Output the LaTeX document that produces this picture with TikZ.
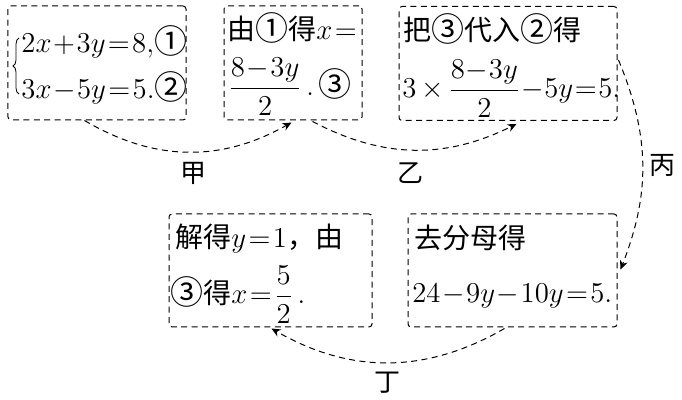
\documentclass[tikz,border=0pt]{standalone}
\usepackage{amsmath}
\usepackage{fontspec}
\newfontfamily\cjk{Noto Sans CJK SC}
\usetikzlibrary{arrows.meta,decorations.pathreplacing}
\newcommand{\cn}[1]{{\cjk #1}}
\newcommand{\cir}[1]{{\cjk\fontsize{16.5}{17}\selectfont\raisebox{-0.5pt}{#1}}}
\begin{document}
\begin{tikzpicture}[x=0.5pt,y=-0.5pt,
  every node/.style={font=\fontsize{14}{16}\selectfont, inner sep=0pt},
  box/.style={draw, dashed, dash pattern=on 3pt off 2.2pt, rounded corners=1.5pt, line width=0.5pt, minimum width=#1},
  txt/.style={anchor=base west},
  conn/.style={draw, dashed, dash pattern=on 3pt off 2.2pt, line width=0.5pt, -{Stealth[length=4.5pt,width=4pt]}},
  lab/.style={font=\fontsize{13}{15}\selectfont\cjk}
]
\useasboundingbox (0,0) rectangle (682,400);
\medmuskip=1mu \thickmuskip=1.5mu
% boxes
\node[box=89pt, minimum height=57pt] (b1) at (97,63) {};
\node[box=69pt, minimum height=57pt] (b2) at (293,63) {};
\node[box=109pt, minimum height=57pt] (b3) at (508,63.5) {};
\node[box=101.5pt, minimum height=56.5pt] (b4) at (270.5,270.5) {};
\node[box=104.5pt, minimum height=56.5pt] (b5) at (512.5,270.5) {};
% box 1
\coordinate (br1) at (19,94);
\coordinate (br2) at (19,38);
\draw[line width=0.4pt, decorate, decoration={brace, amplitude=3pt}] (br1) -- (br2);
\node[txt] (t1a) at (21,53) {$2x+3y=8,$\cir{①}};
\node[txt] (t1b) at (21,99) {$3x-5y=5.$\cir{②}};
% box 2
\node[txt] (t2a) at (227,40) {\cn{由}\cir{①}\cn{得}$x=$};
\node[txt] (t2b) at (228,96) {$\dfrac{8-3y}{2}$\,.\,\cir{③}};
% box 3
\node[txt] (t3a) at (403,41) {\cn{把}\cir{③}\cn{代入}\cir{②}\cn{得}};
\node[txt] (t3b) at (402,98) {\medmuskip=0.5mu\thickmuskip=1mu$3\,{\times}\,\dfrac{8-3y}{2}-5y=5.$};
% box 4
\node[txt] (t4a) at (175,248) {\cn{解得}$y=1$\cn{，由}};
\node[txt] (t4b) at (170,304) {\cir{③}\cn{得}$x=\dfrac{5}{2}$\,.};
% box 5
\node[txt] (t5a) at (414,249) {\cn{去分母得}};
\node[txt] (t5b) at (412,303) {$24-9y-10y=5.$};
% connectors
\coordinate (s1) at ([shift={(77,0)}]b1.south west);
\coordinate (e1) at ([shift={(68,2)}]b2.south west);
\coordinate (s2) at ([shift={(89,1)}]b2.south west);
\coordinate (e2) at ([shift={(118,3)}]b3.south west);
\coordinate (s3) at ([shift={(1,54)}]b3.north east);
\coordinate (e3) at ([shift={(3,56)}]b5.north east);
\coordinate (s4) at ([shift={(97,1)}]b5.south west);
\coordinate (e4) at ([shift={(103,1)}]b4.south west);
\draw[conn] (s1) to[bend right=30] (e1);
\draw[conn] (s2) to[bend right=27] (e2);
\draw[conn] (s3) to[bend left=22] (e3);
\draw[conn] (s4) to[bend left=30] (e4);
% labels
\node[lab] (l1) at (193,173) {甲};
\node[lab] (l2) at (410,173) {乙};
\node[lab] (l3) at (662,165) {丙};
\node[lab] (l4) at (387,383) {丁};
\end{tikzpicture}
\end{document}
